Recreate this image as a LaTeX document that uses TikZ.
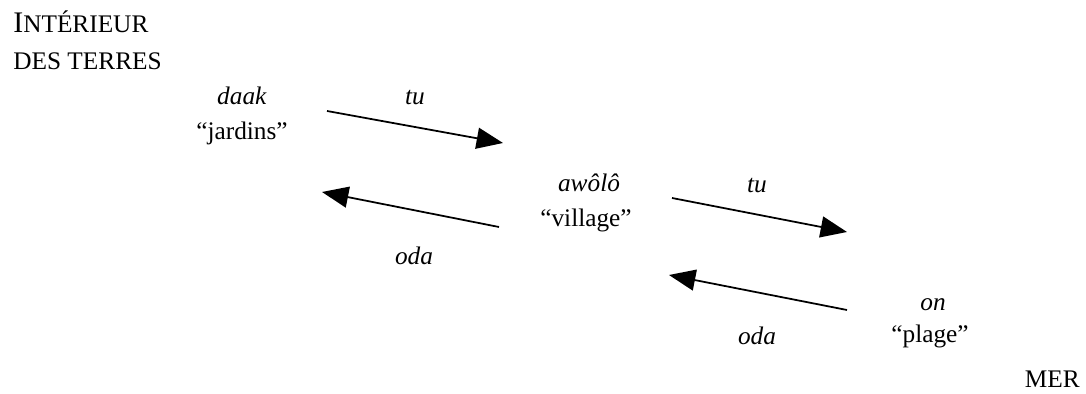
\documentclass[tikz,border=0pt]{standalone}
\usepackage{fontspec}
\setmainfont{Liberation Serif}
\usepackage{tikz}
\usetikzlibrary{arrows.meta}

\begin{document}
\begin{tikzpicture}[x=0.02cm,y=-0.02cm,
    mot/.style={anchor=base,inner sep=0pt,font=\fontsize{14.4}{17}\selectfont},
    fleche/.style={line width=1pt,-{Triangle[length=15pt,width=12pt]}}]
    \useasboundingbox (0,0) rectangle (1086,394);
    % regions
    \node[mot,anchor=base west](interieur)at(13,33){{\fontsize{17}{17}\selectfont I}NTÉRIEUR};
    \node[mot,anchor=base west](terres)at(13,70){DES TERRES};
    \node[mot,anchor=base east](mer)at(1080,388){MER};
    % lieux
    \node[mot](daak)at(242,105){\textit{daak}};
    \node[mot](jardins)at(242,140){“jardins”};
    \node[mot](awolo)at(589,192){\textit{awôlô}};
    \node[mot](village)at(586,227){“village”};
    \node[mot](on)at(933,311){\textit{on}};
    \node[mot](plage)at(930,343){“plage”};
    % fleches
    \coordinate(a1)at(327,111); \coordinate(b1)at(503,143);
    \coordinate(a2)at(499,227); \coordinate(b2)at(322,192);
    \coordinate(a3)at(672,198); \coordinate(b3)at(847,232);
    \coordinate(a4)at(847,310); \coordinate(b4)at(669,275);
    \draw[fleche](a1)--(b1);
    \draw[fleche](a2)--(b2);
    \draw[fleche](a3)--(b3);
    \draw[fleche](a4)--(b4);
    \node[mot](tu1)at(415,105){\textit{tu}};
    \node[mot](oda1)at(414,265){\textit{oda}};
    \node[mot](tu2)at(757,193){\textit{tu}};
    \node[mot](oda2)at(757,345){\textit{oda}};
\end{tikzpicture}
\end{document}
